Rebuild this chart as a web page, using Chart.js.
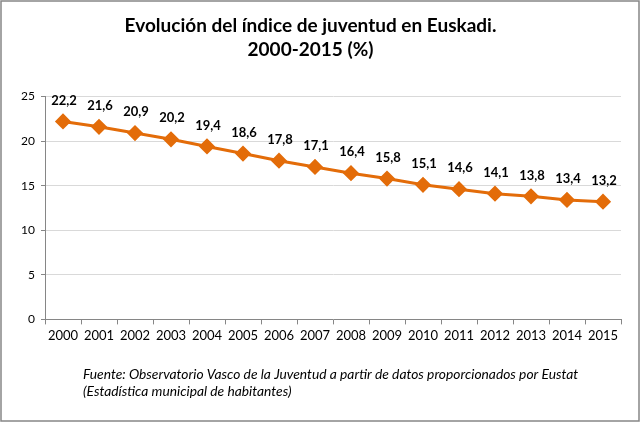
<!DOCTYPE html>
<html>
<head>
<meta charset="utf-8">
<script src="https://cdn.jsdelivr.net/npm/chart.js@4"></script>
<style>
  html, body { margin: 0; padding: 0; background: #fff; }
  #wrap { position: relative; width: 640px; height: 422px; }
</style>
</head>
<body>
<div id="wrap"><canvas id="grafico" width="640" height="422"></canvas></div>
<script>
  'use strict';

  var anos = ['2000','2001','2002','2003','2004','2005','2006','2007','2008','2009','2010','2011','2012','2013','2014','2015'];
  var indice = [22.2, 21.6, 20.9, 20.2, 19.4, 18.6, 17.8, 17.1, 16.4, 15.8, 15.1, 14.6, 14.1, 13.8, 13.4, 13.2];
  var titulo = ['Evolución del índice de juventud en Euskadi.', '2000-2015 (%)'];
  var fuente = ['Fuente: Observatorio Vasco de la Juventud a partir de datos proporcionados por Eustat', '(Estadística municipal de habitantes)'];

  var fuenteTexto = 'Lato, Calibri, sans-serif';

  // etiquetas de datos encima de cada punto
  var etiquetas = {
    id: 'etiquetas',
    afterDatasetsDraw: function (chart) {
      var ctx = chart.ctx;
      var meta = chart.getDatasetMeta(0);
      ctx.save();
      ctx.font = 'bold 13px ' + fuenteTexto;
      ctx.fillStyle = '#000';
      ctx.textAlign = 'center';
      ctx.textBaseline = 'middle';
      meta.data.forEach(function (p, i) {
        var txt = chart.data.datasets[0].data[i].toFixed(1).replace('.', ',');
        ctx.fillText(txt, p.x + 1, p.y - 21);
      });
      ctx.restore();
    }
  };

  // nota de la fuente y marco
  var pie = {
    id: 'pie',
    afterDraw: function (chart) {
      var ctx = chart.ctx;
      ctx.save();
      ctx.font = 'italic 13.8px ' + fuenteTexto;
      ctx.fillStyle = '#000';
      ctx.textAlign = 'left';
      ctx.textBaseline = 'middle';
      ctx.fillText(fuente[0], 83, 375);
      ctx.fillText(fuente[1], 83, 392);
      ctx.strokeStyle = '#868686';
      ctx.lineWidth = 1.5;
      ctx.strokeRect(1, 1, chart.width - 2, chart.height - 2);
      ctx.restore();
    }
  };

  var ctx = document.getElementById('grafico');
  var chart = new Chart(ctx, {
    type: 'line',
    data: {
      labels: anos,
      datasets: [{
        data: indice,
        borderColor: '#E36C09',
        backgroundColor: '#E36C09',
        borderWidth: 3,
        pointStyle: 'rectRot',
        pointRadius: 6,
        pointHoverRadius: 6,
        tension: 0
      }]
    },
    options: {
      responsive: false,
      animation: false,
      layout: { padding: { top: 0, left: 0, right: 19, bottom: 74 } },
      plugins: {
        legend: { display: false },
        tooltip: { enabled: false },
        title: {
          display: true,
          text: titulo,
          color: '#000',
          font: { family: fuenteTexto, size: 19, weight: 'bold', lineHeight: 1.25 },
          padding: { top: 14, bottom: 35 }
        }
      },
      scales: {
        x: {
          offset: true,
          grid: { offset: true, drawOnChartArea: false, tickLength: 5, color: '#868686' },
          border: { color: '#868686' },
          ticks: { color: '#000', padding: 4, maxRotation: 0, autoSkip: false, font: { family: fuenteTexto, size: 13 } }
        },
        y: {
          min: 0,
          max: 25,
          ticks: { stepSize: 5, color: '#000', padding: 6, font: { family: fuenteTexto, size: 12 } },
          grid: { color: '#d9d9d9', tickLength: 4, tickColor: '#868686' },
          border: { color: '#868686' },
          afterFit: function (scale) { scale.width = 45; }
        }
      }
    },
    plugins: [etiquetas, pie]
  });
</script>
</body>
</html>
